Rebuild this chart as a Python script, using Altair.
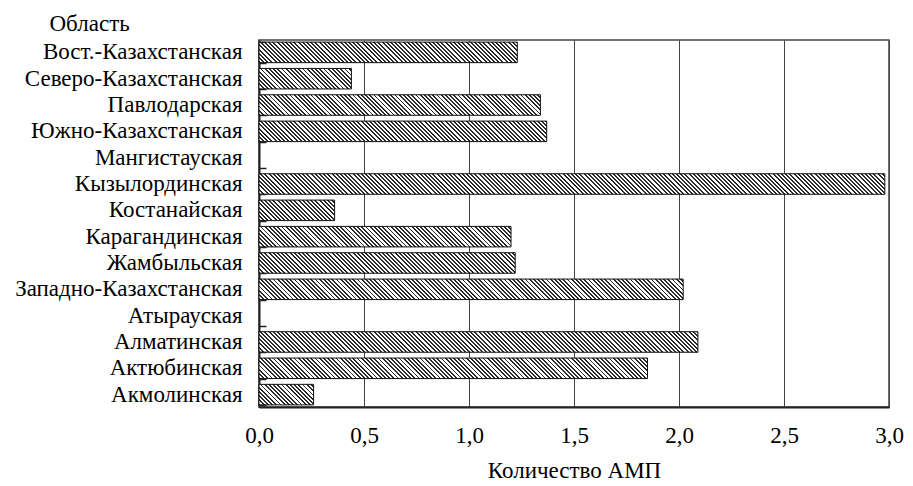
import altair as alt
import pandas as pd

# ---- data ----
regions = [
    "Вост.-Казахстанская", "Северо-Казахстанская", "Павлодарская",
    "Южно-Казахстанская", "Мангистауская", "Кызылординская",
    "Костанайская", "Карагандинская", "Жамбыльская",
    "Западно-Казахстанская", "Атырауская", "Алматинская",
    "Актюбинская", "Акмолинская",
]
amp_counts = [1.23, 0.44, 1.34, 1.37, 0.0, 2.98, 0.36, 1.20, 1.22,
              2.02, 0.0, 2.09, 1.85, 0.26]
x_ticks = [0.0, 0.5, 1.0, 1.5, 2.0, 2.5, 3.0]

df = pd.DataFrame({"region": regions, "amp": amp_counts})

# ---- layout / style ----
W_PLOT = 630
H_PLOT = 367
X_MAX = 3.0
PAD_IN = 0.22
PAD_OUT = 0.08
N = len(regions)
STEP = H_PLOT / (N - PAD_IN + 2 * PAD_OUT)
BAR_H = STEP * (1 - PAD_IN)
PERIOD = 4.2   # hatch period (px, horizontal)
DARK = 0.45    # fraction of the period that is dark
FONT = "Liberation Serif"
FS = 23


def hatch(value):
    """Linear gradient with hard stops that renders as '\\\\' hatching."""
    w = value / X_MAX * W_PLOT
    h = BAR_H
    span = w + h
    k = w * span / (w * w + h * h)
    stops = []
    i = 0
    while i * PERIOD < span:
        a = i * PERIOD / span
        b = min((i * PERIOD + PERIOD * DARK) / span, 1.0)
        c = min((i + 1) * PERIOD / span, 1.0)
        stops += [
            {"offset": a, "color": "#2a2a2a"},
            {"offset": b, "color": "#2a2a2a"},
            {"offset": b, "color": "#ffffff"},
            {"offset": c, "color": "#ffffff"},
        ]
        i += 1
    return {"gradient": "linear", "x1": 0, "y1": 1, "x2": k,
            "y2": 1 - k * h / w, "stops": stops}


x_scale = alt.Scale(domain=[0, X_MAX], nice=False, zero=True)
y_scale = alt.Scale(paddingInner=PAD_IN, paddingOuter=PAD_OUT)

x_axis = alt.Axis(
    values=x_ticks,
    labelExpr="replace(format(datum.value, '.1f'), '.', ',')",
    labelFlush=False, labelOverlap=False,
    title="Количество АМП",
    ticks=False,
    grid=True, gridColor="#444444", gridWidth=1,
    domainColor="#222222", domainWidth=2,
    labelPadding=17, titlePadding=12,
)
y_axis = alt.Axis(
    title="Область",
    titleAngle=0, titleAlign="left", titleBaseline="middle",
    titleX=-210, titleY=-17,
    ticks=False, labelPadding=17, labelLimit=0,
    domainColor="#222222", domainWidth=2,
)
y_tick_axis = alt.Axis(
    title=None, labels=False, domain=False, ticks=True,
    tickSize=7, tickColor="#222222", tickWidth=1.5,
    tickBand="extent", orient="left", offset=-7, grid=False, zindex=1,
)

base = alt.Chart(df)

axis_layer = base.mark_point(opacity=0).encode(
    x=alt.X("amp:Q", scale=x_scale, axis=x_axis),
    y=alt.Y("region:N", sort=regions, scale=y_scale, axis=y_axis),
)
tick_layer = base.mark_point(opacity=0).encode(
    x=alt.X("amp:Q", scale=x_scale, axis=x_axis),
    y=alt.Y("region:N", sort=regions, scale=y_scale, axis=y_tick_axis),
)

bar_layers = []
for reg, val in zip(regions, amp_counts):
    if val <= 0:
        continue
    bar_layers.append(
        base.transform_filter(alt.datum.region == reg)
        .mark_bar(fill=hatch(val), stroke="#111111", strokeWidth=1)
        .encode(
            x=alt.X("amp:Q", scale=x_scale, axis=x_axis),
            y=alt.Y("region:N", sort=regions, scale=y_scale, axis=None),
        )
    )

chart = (
    alt.layer(axis_layer, *bar_layers, tick_layer)
    .resolve_axis(y="independent")
    .properties(
        width=W_PLOT, height=H_PLOT, background="white",
        padding={"left": 6, "top": 4, "right": 0, "bottom": 0},
    )
    .configure_view(stroke="#444444", strokeWidth=1.5)
    .configure_axis(
        labelFont=FONT, titleFont=FONT, labelFontSize=FS, titleFontSize=FS,
        labelColor="black", titleColor="black", titleFontWeight="normal",
    )
)

chart.save("out.html", embed_options={"renderer": "svg", "actions": False})
